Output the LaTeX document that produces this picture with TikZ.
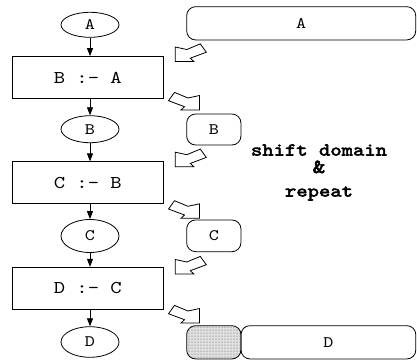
\documentclass[tikz,border=0pt]{standalone}
\usepackage{fontspec}
\newfontfamily\courfont[FakeStretch=1.2]{lmmono10-regular.otf}
\newfontfamily\courbold[FakeStretch=1.2,FakeBold=3]{lmmono10-regular.otf}
\usetikzlibrary{arrows.meta,shapes.geometric,patterns}
\tikzset{
  fatdl/.pic={\draw[fat] (0,0) -- (0,-14.5) -- (11.5,-12) -- (25,-17.6) -- (31,-9.3) -- (15,-3.3) -- (18.5,0) -- cycle;}
}
\begin{document}
\begin{tikzpicture}[x=1pt,y=-1pt,
  oval/.style={draw,ellipse,line width=0.8pt,minimum width=58pt,inner sep=0pt,font=\courfont\fontsize{16}{16}\selectfont},
  stmt/.style={draw,rectangle,line width=0.8pt,minimum width=151pt,minimum height=42pt,inner sep=0pt,font=\courfont\fontsize{18}{18}\selectfont},
  dom/.style={draw,rectangle,rounded corners=9pt,line width=0.8pt,inner sep=0pt,font=\courfont\fontsize{16}{16}\selectfont},
  flow/.style={line width=0.8pt,-{Triangle[length=8pt,width=6pt]}},
  fat/.style={draw,line width=0.8pt,fill=white,line join=miter},
  note/.style={font=\courbold\fontsize{18}{18}\selectfont,anchor=base,inner sep=0pt},
]
\useasboundingbox (0,0) rectangle (417,360);

% left column
\node[oval,minimum height=25pt] (eA) at (90,24.8) {A};
\node[stmt] (rB) at (87.8,77.5) {B :- A};
\node[oval,minimum height=27pt] (eB) at (90,129.2) {B};
\node[stmt] (rC) at (87.8,182.8) {C :- B};
\node[oval,minimum height=33pt] (eC) at (90,236) {C};
\node[stmt] (rD) at (87.8,288.2) {D :- C};
\node[oval,minimum height=30.6pt] (eD) at (90,342) {D};

\draw[flow] (eA.south) -- (eA.south |- rB.north);
\draw[flow] (eA.south |- rB.south) -- (eB.north);
\draw[flow] (eB.south) -- (eB.south |- rC.north);
\draw[flow] (eB.south |- rC.south) -- (eC.north);
\draw[flow] (eC.south) -- (eC.south |- rD.north);
\draw[flow] (eC.south |- rD.south) -- (eD.north);

% right column
\node[dom,minimum width=229pt,minimum height=33.3pt] (dA) at (301.2,23.3) {A};
\node[dom,minimum width=54.3pt,minimum height=31pt] (dB) at (213.8,129.5) {B};
\node[dom,minimum width=54.3pt,minimum height=31.7pt] (dC) at (213.8,235.8) {C};
\node[dom,minimum width=54.3pt,minimum height=33.3pt,fill=black!12,postaction={pattern=dots,pattern color=black!70}] (dX) at (213.8,342.3) {};
\node[dom,minimum width=174.8pt,minimum height=33.3pt] (dD) at (328.4,342.3) {D};

% fat shift arrows
\path (175.3,61.5) pic{fatdl};
\path (199.5,110) pic[xscale=-1]{fatdl};
\path (175.3,166.7) pic{fatdl};
\path (199.5,218.3) pic[xscale=-1]{fatdl};
\path (175.3,274) pic{fatdl};
\path (199.5,323) pic[xscale=-1]{fatdl};

% note
\node[note] (t1) at (319,155.5) {shift domain};
\node[note,font=\courbold\fontsize{20}{20}\selectfont] (t2) at (319,173) {\&};
\node[note] (t3) at (319,196.5) {repeat};
\end{tikzpicture}
\end{document}
